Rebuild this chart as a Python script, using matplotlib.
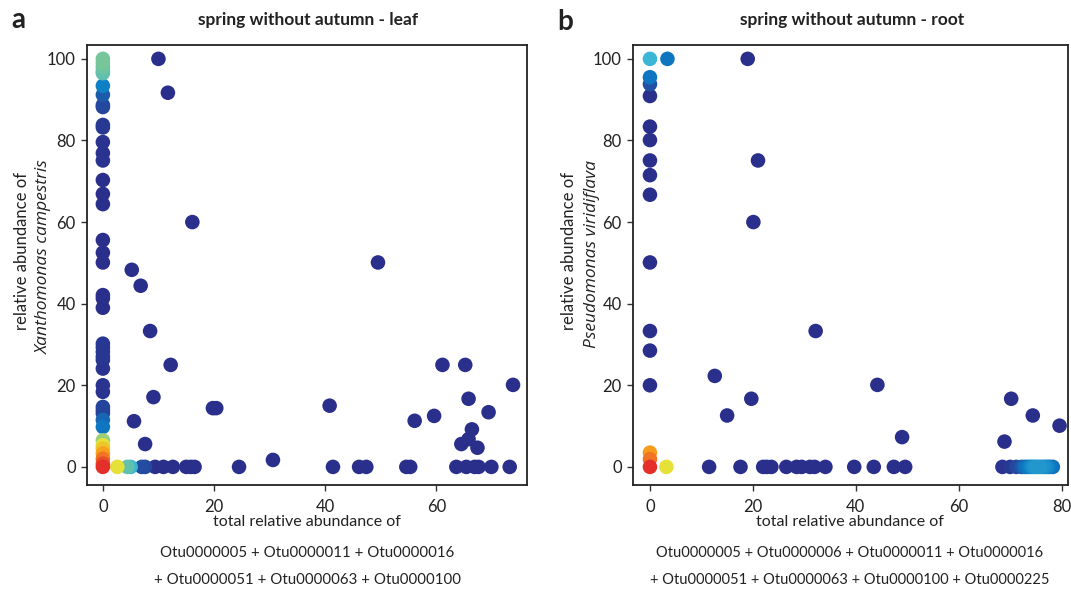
import matplotlib
matplotlib.use("Agg")
import matplotlib.pyplot as plt
import numpy as np
from matplotlib.colors import LinearSegmentedColormap

plt.rcParams["font.family"] = ["Lato", "DejaVu Sans"]

# ---- panel a: leaf (x = total abundance, y = Xanthomonas, d = point density colour 0..1)
leaf_x = [0, 0, 0, 0, 0, 0, 0, 0, 0, 0, 0, 0, 0, 0, 0, 0, 0, 0, 0, 0,
          0, 0, 0, 0, 0, 0, 0, 0, 0, 0, 0, 0, 0, 0, 0, 0, 0, 0, 0, 0, 0, 0,
          10.0, 11.7, 16.1, 49.5, 5.2, 6.8, 8.5, 12.2, 9.1, 5.6, 7.6,
          19.8, 20.4, 40.8, 30.6, 61.1, 65.2, 73.8, 65.8, 69.4, 56.1, 59.6,
          66.4, 65.8, 64.5, 67.4,
          2.6, 4.4, 5.0, 7.0, 7.6, 9.4, 10.9, 12.6, 15.0, 15.8, 16.5, 24.5,
          41.4, 46.1, 47.4, 54.6, 55.3, 63.6, 65.4, 66.9, 67.6, 69.9, 73.2,
          0]
leaf_y = [100, 99, 98, 97, 96.5, 93.4, 91.2, 88.7, 88.2, 83.8, 83.2, 79.6,
          76.9, 75.1, 70.3, 66.9, 64.4, 55.6, 52.5, 50.1, 42.1, 41.3, 39.0,
          30.2, 29.3, 28.2, 27.0, 26.2, 24.1, 20.0, 18.4, 14.7, 13.9, 13.1,
          11.5, 9.8, 6.5, 5.3, 4.5, 3.3, 2.0, 0.8,
          100, 91.7, 60, 50.1, 48.3, 44.4, 33.3, 25.0, 17.1, 11.2, 5.6,
          14.4, 14.4, 15.0, 1.7, 25.0, 25.0, 20.1, 16.7, 13.4, 11.3, 12.5,
          9.2, 6.8, 5.6, 4.7,
          0, 0, 0, 0, 0, 0, 0, 0, 0, 0, 0, 0,
          0, 0, 0, 0, 0, 0, 0, 0, 0, 0, 0,
          0]
leaf_d = [0.56, 0.56, 0.55, 0.53, 0.52, 0.33, 0.2, 0.12, 0.1, 0.05, 0.05, 0.02,
          0.02, 0.02, 0, 0, 0, 0, 0, 0, 0, 0, 0,
          0.04, 0.04, 0.04, 0.04, 0.03, 0.02, 0.02, 0.02, 0.1, 0.1, 0.1,
          0.24, 0.3, 0.6, 0.68, 0.74, 0.82, 0.9, 0.96,
          0, 0, 0, 0, 0, 0, 0, 0, 0, 0, 0,
          0, 0, 0, 0, 0, 0, 0, 0, 0, 0, 0,
          0, 0, 0, 0,
          0.68, 0.53, 0.45, 0.14, 0.12, 0, 0, 0, 0, 0, 0, 0,
          0, 0, 0, 0, 0, 0, 0, 0, 0, 0, 0,
          1.0]

# ---- panel b: root (y = Pseudomonas viridiflava)
root_x = [0, 0, 0, 0, 0, 0, 0, 0, 0, 0, 0, 0, 0, 0, 0, 0,
          3.4, 19.0, 21.0, 20.1, 32.2, 12.6, 15.0, 19.7, 44.2, 49.0, 68.9,
          70.2, 74.4, 79.6,
          3.2, 11.5, 17.6, 22.0, 22.7, 23.6, 26.5, 28.5, 29.5, 31.1, 32.0,
          34.1, 39.7, 43.5, 47.4, 49.6, 68.5, 70.0, 71.2, 72.2,
          72.8, 73.3, 73.8, 74.2, 74.6, 75.0, 75.4, 75.8, 76.2, 76.6, 77.0,
          77.4, 77.8, 78.3]
root_y = [100, 95.5, 93.8, 90.9, 83.4, 80.1, 75.1, 71.5, 66.7, 50.1, 33.3,
          28.5, 20.0, 3.5, 1.9, 0,
          100, 100, 75.1, 60.0, 33.3, 22.3, 12.6, 16.7, 20.1, 7.3, 6.2,
          16.7, 12.6, 10.1,
          0, 0, 0, 0, 0, 0, 0, 0, 0, 0, 0,
          0, 0, 0, 0, 0, 0, 0, 0, 0,
          0, 0, 0, 0, 0, 0, 0, 0, 0, 0, 0,
          0, 0, 0]
root_d = [0.45, 0.3, 0.16, 0, 0, 0, 0, 0, 0, 0, 0,
          0, 0, 0.83, 0.9, 1.0,
          0.3, 0, 0, 0, 0, 0, 0, 0, 0, 0, 0,
          0, 0, 0,
          0.68, 0, 0, 0, 0, 0, 0, 0, 0, 0, 0,
          0, 0, 0, 0, 0, 0.02, 0.05, 0.12, 0.18,
          0.26, 0.3, 0.33, 0.35, 0.37, 0.38, 0.38, 0.38, 0.37, 0.36, 0.35,
          0.33, 0.3, 0.27]

leaf_title = "spring without autumn - leaf"
root_title = "spring without autumn - root"
x_lines_a = ["total relative abundance of",
             "Otu0000005 + Otu0000011 + Otu0000016",
             "+ Otu0000051 + Otu0000063 + Otu0000100"]
x_lines_b = ["total relative abundance of",
             "Otu0000005 + Otu0000006 + Otu0000011 + Otu0000016",
             "+ Otu0000051 + Otu0000063 + Otu0000100 + Otu0000225"]

density_cmap = LinearSegmentedColormap.from_list(
    "density",
    [(0.0, "#2b2f8c"), (0.18, "#1f56a8"), (0.32, "#0b7cc4"), (0.45, "#3cb6d8"),
     (0.55, "#6cc4a2"), (0.68, "#e6e23a"), (0.82, "#f7a21c"), (0.92, "#ef6a24"),
     (1.0, "#e52f2a")],
)

fig = plt.figure(figsize=(10.71, 5.92), dpi=100)
ax_a = fig.add_axes([0.081, 0.181, 0.411, 0.743])
ax_b = fig.add_axes([0.591, 0.181, 0.406, 0.743])


def draw_panel(ax, xs, ys, ds, xlim, xticks):
    xs, ys, ds = np.asarray(xs), np.asarray(ys), np.asarray(ds)
    order = np.argsort(ds, kind="stable")
    ax.scatter(xs[order], ys[order], c=ds[order], cmap=density_cmap,
               vmin=0, vmax=1, s=110, linewidths=0, zorder=3)
    ax.set_xlim(*xlim)
    ax.set_ylim(-4.4, 103.4)
    ax.set_xticks(xticks)
    ax.set_yticks([0, 20, 40, 60, 80, 100])
    ax.tick_params(direction="out", length=4, width=1, labelsize=12,
                   color="#333333", labelcolor="#222222", pad=4)
    ax.tick_params(axis="x", pad=6)
    for sp in ax.spines.values():
        sp.set_linewidth(1.3)
        sp.set_color("#222222")


draw_panel(ax_a, leaf_x, leaf_y, leaf_d, (-2.9, 76.3), [0, 20, 40, 60])
draw_panel(ax_b, root_x, root_y, root_d, (-3.3, 81.2), [0, 20, 40, 60, 80])

H = 592.0
W = 1071.0


def fx(px):
    return px / W


def fy(py):
    return 1 - py / H


# titles and panel letters
fig.text(fx(308), fy(20), leaf_title, ha="center", va="center",
         fontsize=12.5, fontweight="bold", color="#222222")
fig.text(fx(852), fy(20), root_title, ha="center", va="center",
         fontsize=12.5, fontweight="bold", color="#222222")
fig.text(fx(18), fy(20), "a", ha="center", va="center", fontsize=20,
         fontweight="bold", color="#222222")
fig.text(fx(565), fy(22), "b", ha="center", va="center", fontsize=20,
         fontweight="bold", color="#222222")

# y labels
italic_font = ["Open Sans", "DejaVu Sans"]
fig.text(fx(22), fy(251), "relative abundance of", rotation=90, ha="center",
         va="center", fontsize=12, color="#222222")
fig.text(fx(44), fy(257), "Xanthomonas campestris", rotation=90, ha="center",
         va="center", fontsize=12.5, style="italic", family=italic_font,
         color="#222222")
fig.text(fx(569), fy(251), "relative abundance of", rotation=90, ha="center",
         va="center", fontsize=12, color="#222222")
fig.text(fx(592), fy(254), "Pseudomonas viridiflava", rotation=90, ha="center",
         va="center", fontsize=12.5, style="italic", family=italic_font,
         color="#222222")

# x labels
for i, (line, py) in enumerate(zip(x_lines_a, [522, 553, 580])):
    fig.text(fx(307), fy(py), line, ha="center", va="center",
             fontsize=11.5 if i == 0 else 10.8, color="#222222")
for i, (line, py) in enumerate(zip(x_lines_b, [522, 553, 580])):
    fig.text(fx(850), fy(py), line, ha="center", va="center",
             fontsize=11.5 if i == 0 else 10.5, color="#222222")

fig.savefig("out.png", dpi=100, facecolor="white")
